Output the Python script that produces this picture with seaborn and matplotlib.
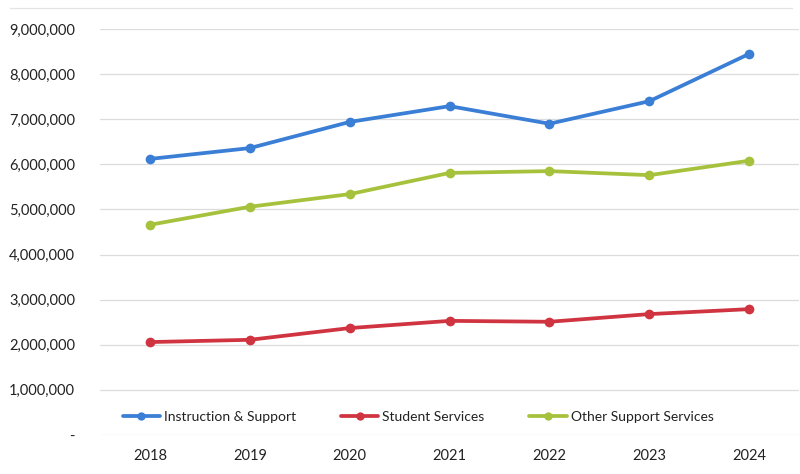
import matplotlib
matplotlib.use("Agg")
import matplotlib.pyplot as plt
import matplotlib.ticker as mticker
from matplotlib.lines import Line2D
import seaborn as sns
import pandas as pd

years = ["2018", "2019", "2020", "2021", "2022", "2023", "2024"]
instruction = [6120000, 6360000, 6940000, 7290000, 6900000, 7400000, 8450000]
student = [2060000, 2110000, 2370000, 2530000, 2510000, 2680000, 2790000]
other = [4660000, 5060000, 5340000, 5810000, 5850000, 5760000, 6080000]
series_names = ["Instruction & Support", "Student Services", "Other Support Services"]
colors = ["#3a7fd5", "#cf3440", "#a6c23c"]
yticks = [0, 1000000, 2000000, 3000000, 4000000, 5000000, 6000000, 7000000, 8000000, 9000000]

rows = []
for name, vals in zip(series_names, [instruction, student, other]):
    for y, v in zip(years, vals):
        rows.append({"Year": y, "Value": v, "Series": name})
df = pd.DataFrame(rows)

sns.set_theme(style="white")
plt.rcParams["font.family"] = ["Lato", "DejaVu Sans"]

fig = plt.figure(figsize=(8, 4.74), dpi=100)
ax = fig.add_axes([0.125, 0.0823, 0.874, 0.8565])

sns.lineplot(data=df, x="Year", y="Value", hue="Series", hue_order=series_names,
             palette=colors, marker="o", markersize=7, markeredgewidth=0,
             linewidth=2.7, ax=ax, legend=False, sort=False)

ax.set_xlim(-0.5, len(years) - 0.5)
ax.set_ylim(0, 9000000)
ax.set_yticks(yticks)
ax.yaxis.set_major_formatter(mticker.FuncFormatter(lambda v, p: "-" if v == 0 else f"{int(v):,}"))
ax.grid(axis="y", color="#dcdcdc", linewidth=0.9)
ax.set_axisbelow(True)
for s in ax.spines.values():
    s.set_visible(False)
ax.set_xlabel("")
ax.set_ylabel("")
ax.tick_params(axis="y", length=0, pad=18, labelsize=10.5, labelcolor="#222222")
ax.tick_params(axis="x", length=0, pad=10, labelsize=10.5, labelcolor="#222222")

handles = [Line2D([0], [0], color=c, lw=2.7, marker="o", markersize=6, markeredgewidth=0) for c in colors]
ax.legend(handles, series_names, loc="center", bbox_to_anchor=(0.455, 0.045), ncol=3,
          frameon=False, fontsize=10, handlelength=2.7, handletextpad=0.3, columnspacing=3.2,
          labelcolor="#222222")

fig.add_artist(Line2D([0.012, 0.99], [1 - 8 / 474, 1 - 8 / 474], color="#e4e4e4", lw=0.9))

fig.savefig("out.png", dpi=100)
